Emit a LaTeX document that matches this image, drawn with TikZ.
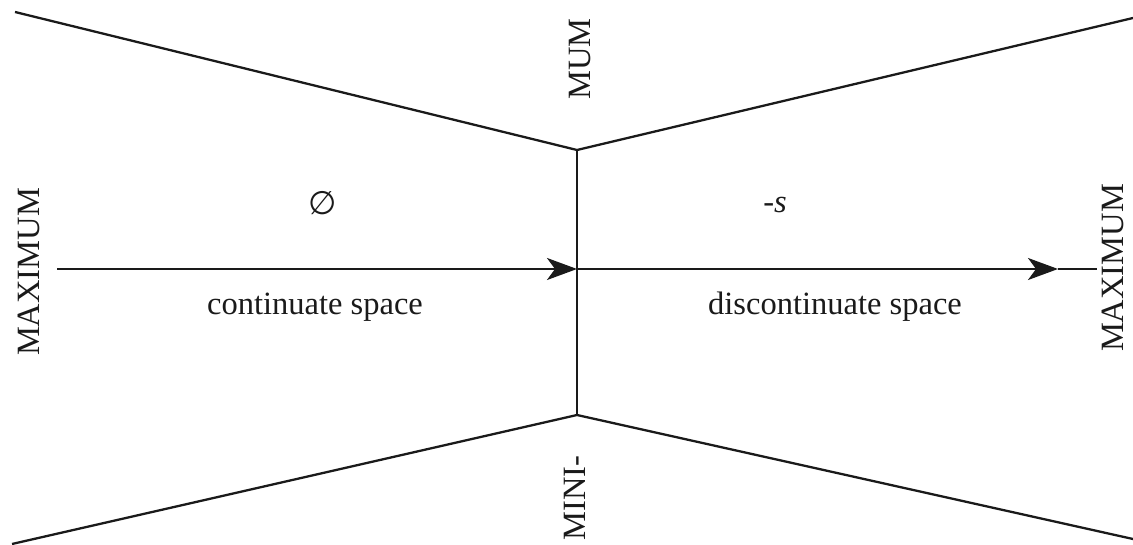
\documentclass[tikz,border=0pt]{standalone}
\usepackage{fontspec}
\setmainfont{Liberation Serif}
\newfontfamily\symfont{DejaVu Sans}
\usetikzlibrary{arrows.meta,positioning}
\definecolor{ink}{HTML}{1A1A1A}
\tikzset{
  every node/.style={font=\fontsize{18.5}{22}\selectfont, text=ink, inner sep=0pt},
  edge/.style={draw=ink, line width=1.3pt},
  arr/.style={edge, -{Stealth[length=6mm, width=4.4mm, inset=1.6mm]}},
  lbl/.style={font=\fontsize{18.5}{22}\selectfont},
  vlbl/.style={lbl, rotate=90},
}
\begin{document}
\begin{tikzpicture}
\useasboundingbox (0,0) rectangle (22.66,10.88);

% --- corners and junctions ---
\coordinate (tl) at (0.30,10.64);
\coordinate (tr) at (22.66,10.52);
\coordinate (bl) at (0.24,0.00);
\coordinate (br) at (22.66,0.10);
\coordinate (jtop) at (11.54,7.88);
\coordinate (jbot) at (11.54,2.58);
\coordinate (jmid) at (11.54,5.50);
\coordinate (astart) at (1.14,5.50);
\coordinate (tip) at (21.16,5.50);
\coordinate (aend) at (21.94,5.50);

\draw[edge] (tl) -- (jtop) -- (tr);
\draw[edge] (bl) -- (jbot) -- (br);
\draw[edge] (jtop) -- (jbot);

% --- axis ---
\draw[arr] (astart) -- (jmid);
\draw[arr] (jmid) -- (tip);
\draw[edge] (tip) -- (aend);

% --- labels ---
\node[vlbl] (maxl) at (0.58,5.44) {MAXIMUM};
\node[vlbl] (maxr) at (22.26,5.52) {MAXIMUM};
\node[vlbl] (mum) at (11.60,9.70) {MUM};
\node[vlbl] (mini) at (11.50,0.92) {MINI-};
\node[lbl] (empty) at (6.46,6.82) {\symfont ∅};
\node[lbl] (negs) at (15.50,6.78) {-\textit{s}};
\node[lbl] (cont) at (6.30,4.74) {continuate space};
\node[lbl] (discont) at (16.70,4.74) {discontinuate space};

\end{tikzpicture}
\end{document}
